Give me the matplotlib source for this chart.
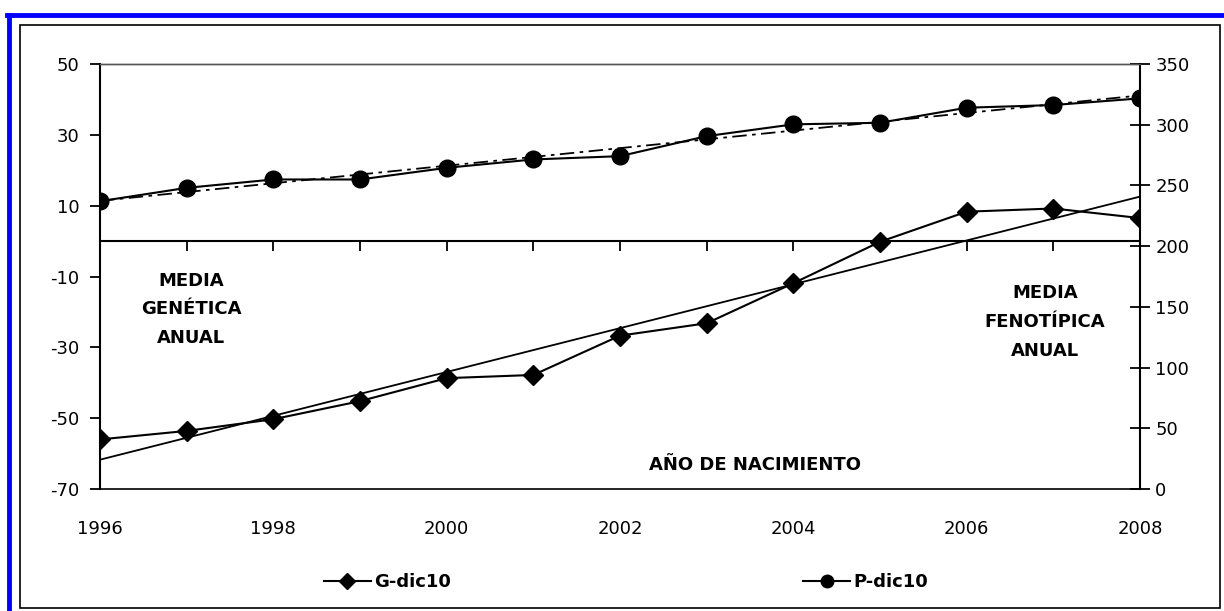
import numpy as np
import matplotlib
matplotlib.use("Agg")
import matplotlib.pyplot as plt
from matplotlib.lines import Line2D

years = [1996, 1997, 1998, 1999, 2000, 2001, 2002, 2003, 2004, 2005, 2006, 2007, 2008]
g_dic10 = [-56.0, -53.6, -50.3, -45.2, -38.7, -37.8, -26.7, -23.2, -11.9, -0.2, 8.3, 9.2, 6.5]
p_dic10 = [237.0, 248.0, 254.9, 254.9, 264.5, 271.4, 274.1, 290.6, 300.3, 301.6, 314.0, 316.2, 321.7]
left_ticks = [-70, -50, -30, -10, 10, 30, 50]
right_ticks = [0, 50, 100, 150, 200, 250, 300, 350]
label_years = [1996, 1998, 2000, 2002, 2004, 2006, 2008]

plt.rcParams['font.family'] = ['DejaVu Sans']
plt.rcParams['axes.unicode_minus'] = False

fig = plt.figure(figsize=(12.24, 6.11), dpi=100)
W, H = 1224, 611

# decorative frames
fig.add_artist(Line2D([7 / W, 1.0], [1 - 15 / H, 1 - 15 / H], color='#0000ff', lw=3.5))
fig.add_artist(Line2D([9 / W, 9 / W], [0.0, 1 - 15 / H], color='#0000ff', lw=3.5))
fig.add_artist(plt.Rectangle((20 / W, 3 / H), 1200 / W, (611 - 25 - 3) / H, fill=False,
                             edgecolor='black', lw=1.2, transform=fig.transFigure))

ax = fig.add_axes([100 / W, (611 - 489) / H, 1040 / W, 425 / H])
ax2 = ax.twinx()

x = np.array(years)
# G series on left axis
ax.plot(x, g_dic10, color='black', lw=1.5, marker='D', ms=10, mfc='black', mec='black', zorder=4)
gcoef = np.polyfit(x, g_dic10, 1)
ax.plot(x[[0, -1]], np.polyval(gcoef, x[[0, -1]]), color='black', lw=1.3, zorder=3)

# P series on right axis
ax2.plot(x, p_dic10, color='black', lw=1.5, marker='o', ms=12, mfc='black', mec='black', zorder=4)
pcoef = np.polyfit(x, p_dic10, 1)
ax2.plot(x[[0, -1]], np.polyval(pcoef, x[[0, -1]]), color='black', lw=1.3,
         linestyle=(0, (8, 3, 2, 3)), zorder=3)

ax.set_xlim(1996, 2008)
ax.set_ylim(-70, 50)
ax2.set_ylim(0, 350)
ax.set_yticks(left_ticks)
ax2.set_yticks(right_ticks)

# x axis line at zero
ax.spines['bottom'].set_position(('data', 0))
ax.spines['bottom'].set_linewidth(1.5)
ax.spines['left'].set_linewidth(1.5)
ax2.spines['right'].set_linewidth(1.5)
for a in (ax, ax2):
    a.spines['top'].set_color('#555555')
    a.spines['top'].set_linewidth(1.0)
ax2.spines['bottom'].set_visible(False)
ax2.spines['left'].set_visible(False)
ax.spines['right'].set_visible(False)

ax.set_xticks(years)
ax.set_xticklabels([])
ax.tick_params(axis='x', direction='out', length=7, width=1.3)
ax.tick_params(axis='y', direction='out', length=7, width=1.3, labelsize=13, pad=8)
ax2.tick_params(axis='y', direction='inout', length=14, width=1.3, labelsize=13, pad=4)

# bottom border with year labels
sec = ax.secondary_xaxis('bottom')
sec.set_xticks(label_years)
sec.set_xticklabels([str(y) for y in label_years])
sec.tick_params(length=0, labelsize=13, pad=22)
sec.spines['bottom'].set_color('black')
sec.spines['bottom'].set_linewidth(1.2)


def fig_text(px, py, s):
    fig.text(px / W, 1 - py / H, s, ha='center', va='center', fontsize=13,
             fontweight='bold', linespacing=1.75)


fig_text(191, 309, 'MEDIA\nGENÉTICA\nANUAL')
fig_text(1045, 322, 'MEDIA\nFENOTÍPICA\nANUAL')
fig_text(755, 465, 'AÑO DE NACIMIENTO')

handles = [Line2D([], [], color='black', lw=1.5, marker='D', ms=8),
           Line2D([], [], color='black', lw=1.5, marker='o', ms=9)]
leg = fig.legend(handles, ['G-dic10', 'P-dic10'], ncol=2, frameon=False,
                 loc='center', bbox_to_anchor=(626 / W, 1 - 582 / H),
                 handlelength=2.6, handletextpad=0.2, columnspacing=19.5,
                 prop={'size': 13, 'weight': 'bold'})

fig.savefig('out.png', dpi=100)
